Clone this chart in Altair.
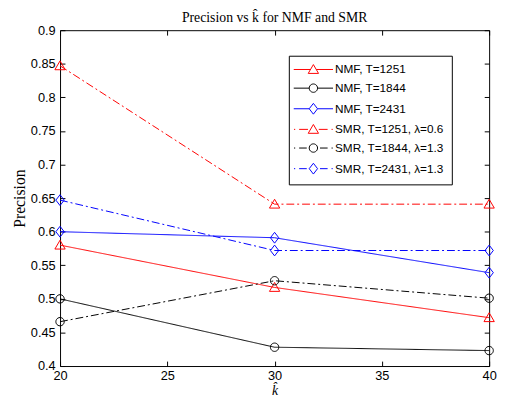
import math
import altair as alt
import pandas as pd

# ---- data ----
k_hat = [20, 30, 40]
series_names = [
    "NMF, T=1251",
    "NMF, T=1844",
    "NMF, T=2431",
    "SMR, T=1251, λ=0.6",
    "SMR, T=1844, λ=1.3",
    "SMR, T=2431, λ=1.3",
]
nmf_t1251 = [0.580, 0.517, 0.472]
nmf_t1844 = [0.500, 0.428, 0.423]
nmf_t2431 = [0.600, 0.591, 0.539]
smr_t1251 = [0.847, 0.641, 0.641]
smr_t1844 = [0.466, 0.527, 0.501]
smr_t2431 = [0.647, 0.572, 0.572]
series_colors = ["#ff0000", "#000000", "#0000ff", "#ff0000", "#000000", "#0000ff"]
x_ticks = [20, 25, 30, 35, 40]
y_ticks = [0.4, 0.45, 0.5, 0.55, 0.6, 0.65, 0.7, 0.75, 0.8, 0.85, 0.9]

all_values = [nmf_t1251, nmf_t1844, nmf_t2431, smr_t1251, smr_t1844, smr_t2431]
rows = []
for name, vals in zip(series_names, all_values):
    for k, v in zip(k_hat, vals):
        rows.append({"k": k, "precision": v, "series": name})
df = pd.DataFrame(rows)

# ---- styles ----
SOLID = [1, 0]
DASHDOT = [8, 3, 2, 3]
dash_range = [SOLID, SOLID, SOLID, DASHDOT, DASHDOT, DASHDOT]

TRI = "M0,-1L1.05,0.8L-1.05,0.8Z"
_circ = [(0.85 * math.cos(2 * math.pi * i / 24), 0.85 * math.sin(2 * math.pi * i / 24))
         for i in range(24)]
CIR = "M" + "L".join(f"{x:.3f},{y:.3f}" for x, y in _circ) + "Z"
DIA = "M0,-1.1L0.85,0L0,1.1L-0.85,0Z"
marker_paths = [TRI, CIR, DIA, TRI, CIR, DIA]
edges = [0.6, 0.85, 0.85, 0.6, 0.85, 0.85]


def solid_path(e):
    return f"M-4,0H-{e}M{e},0H4"


def dashdot_path(e):
    return (f"M-3.95,0H-3.7M-2.9,0H-{e + 0.5}"
            f"M{e + 0.5},0H2.9M3.7,0H3.95")


legend_paths = []
for i, (m, e) in enumerate(zip(marker_paths, edges)):
    line = solid_path(e) if i < 3 else dashdot_path(e)
    legend_paths.append(line + m)

LABEL_FONT = "Liberation Sans, Arial, Roboto, sans-serif"
SERIF = "Liberation Serif"

x_scale = alt.Scale(domain=[20, 40], nice=False, zero=False)
y_scale = alt.Scale(domain=[0.4, 0.9], nice=False, zero=False)
color_scale = alt.Scale(domain=series_names, range=series_colors)

base = alt.Chart(df)

lines = base.mark_line(strokeWidth=1).encode(
    x=alt.X("k:Q", scale=x_scale,
            axis=alt.Axis(values=x_ticks, format="d", orient="bottom", title="k̂",
                          titleFont=SERIF, titleFontStyle="italic", titleFontWeight="normal",
                          titleFontSize=14, titleColor="black", titlePadding=1,
                          labelFont=LABEL_FONT, labelFontSize=13, labelColor="black",
                          labelPadding=4, tickSize=5, offset=-5, domain=False,
                          tickColor="black", grid=False, labelFlush=False)),
    y=alt.Y("precision:Q", scale=y_scale,
            axis=alt.Axis(values=y_ticks, format=".2~f", orient="left", title="Precision",
                          titleFont=SERIF, titleFontWeight="normal", titleFontSize=16,
                          titleColor="black", titlePadding=3,
                          labelFont=LABEL_FONT, labelFontSize=13, labelColor="black",
                          labelPadding=5, tickSize=5, offset=-5, domain=False,
                          tickColor="black", grid=False, labelFlush=False)),
    color=alt.Color("series:N", scale=color_scale, legend=None),
    strokeDash=alt.StrokeDash("series:N",
                              scale=alt.Scale(domain=series_names, range=dash_range),
                              legend=None),
    detail="series:N",
)

points = base.mark_point(filled=False, size=100, strokeWidth=1, opacity=1).encode(
    x=alt.X("k:Q", scale=x_scale,
            axis=alt.Axis(values=x_ticks, orient="top", labels=False, title=None,
                          tickSize=5, offset=-5, domain=False, tickColor="black",
                          grid=False, minExtent=0, maxExtent=0)),
    y=alt.Y("precision:Q", scale=y_scale,
            axis=alt.Axis(values=y_ticks, orient="right", labels=False, title=None,
                          tickSize=5, offset=-5, domain=False, tickColor="black",
                          grid=False, minExtent=0, maxExtent=0)),
    color=alt.Color("series:N", scale=color_scale, legend=None),
    shape=alt.Shape("series:N",
                    scale=alt.Scale(domain=series_names, range=marker_paths),
                    legend=None),
)

legend_def = alt.Legend(
    title=None, orient="none", legendX=233, legendY=26,
    strokeColor="black", fillColor="white", padding=8,
    symbolSize=100, symbolStrokeWidth=1, symbolOffset=11,
    labelOffset=16, labelFont=LABEL_FONT, labelFontSize=12, labelColor="black",
    rowPadding=6,
)

legend_layer = base.transform_filter("datum.k < 0").mark_point(
    filled=False, size=100, strokeWidth=1, opacity=1
).encode(
    color=alt.Color("series:N", scale=color_scale, legend=legend_def),
    shape=alt.Shape("series:N",
                    scale=alt.Scale(domain=series_names, range=legend_paths),
                    legend=legend_def),
)

chart = alt.layer(lines, points, legend_layer).resolve_scale(
    color="independent", shape="independent"
).resolve_axis(
    x="independent", y="independent"
).properties(
    width=437,
    height=342,
    background="white",
    padding={"left": 3, "top": 0, "right": 0, "bottom": 0},
    title=alt.Title("Precision vs k̂ for NMF and SMR", font=SERIF, fontSize=14,
                    fontWeight="normal", color="black", offset=-1),
).configure_view(
    stroke="black", strokeWidth=1
)

chart.save("out.html", embed_options={"renderer": "svg", "actions": False})
